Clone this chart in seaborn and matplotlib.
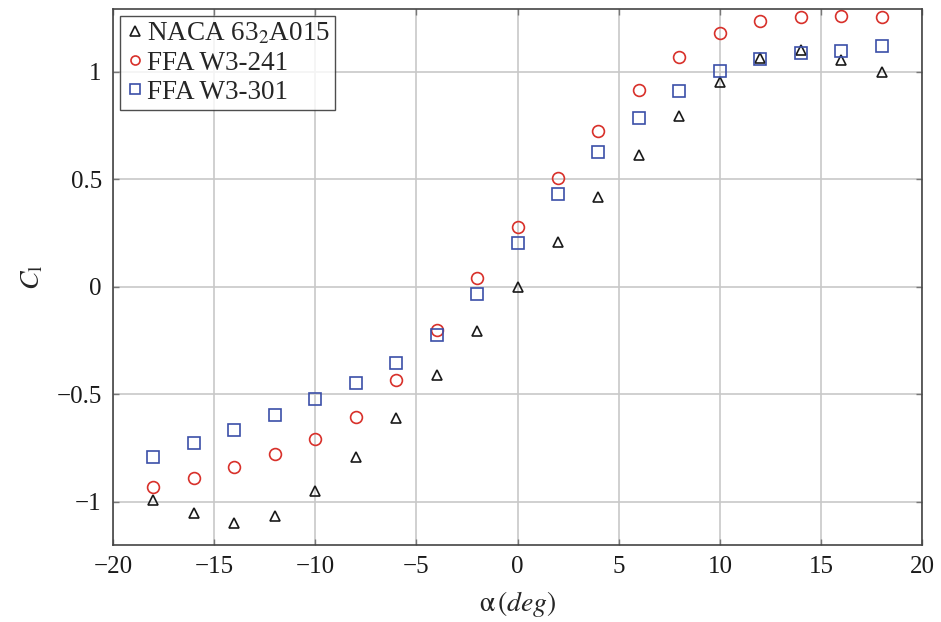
import matplotlib
matplotlib.use("Agg")
import matplotlib.pyplot as plt
import seaborn as sns
import pandas as pd

# Angle of attack (deg)
alpha = [-18, -16, -14, -12, -10, -8, -6, -4, -2, 0, 2, 4, 6, 8, 10, 12, 14, 16, 18]

# Lift coefficient per airfoil
cl_naca = [-0.99, -1.05, -1.10, -1.065, -0.95, -0.79, -0.608, -0.41, -0.206, 0.0,
           0.209, 0.419, 0.615, 0.795, 0.955, 1.066, 1.104, 1.054, 0.998]
cl_w3241 = [-0.93, -0.89, -0.839, -0.778, -0.707, -0.603, -0.433, -0.202, 0.042, 0.277,
            0.507, 0.726, 0.918, 1.071, 1.18, 1.237, 1.256, 1.259, 1.256]
cl_w3301 = [-0.789, -0.726, -0.664, -0.596, -0.523, -0.447, -0.352, -0.225, -0.034, 0.205,
            0.434, 0.628, 0.786, 0.91, 1.005, 1.06, 1.088, 1.10, 1.119]

labels = [r"NACA 63$_2$A015", "FFA W3-241", "FFA W3-301"]

df = pd.concat([
    pd.DataFrame({"alpha": alpha, "cl": cl_naca, "airfoil": labels[0]}),
    pd.DataFrame({"alpha": alpha, "cl": cl_w3241, "airfoil": labels[1]}),
    pd.DataFrame({"alpha": alpha, "cl": cl_w3301, "airfoil": labels[2]}),
])

sns.set_theme(style="whitegrid")
plt.rcParams["font.family"] = ["Liberation Serif", "DejaVu Serif"]
plt.rcParams["mathtext.fontset"] = "stix"

fig = plt.figure(figsize=(9.41, 6.22), dpi=100)
ax = fig.add_axes([0.120, 0.124, 0.860, 0.8615])

palette = {labels[0]: "#1a1a1a", labels[1]: "#d8302a", labels[2]: "#3b4fa8"}
markers = {labels[0]: "^", labels[1]: "o", labels[2]: "s"}
sizes = {labels[0]: 6.5, labels[1]: 8.5, labels[2]: 9}

for name in labels:
    sub = df[df["airfoil"] == name]
    sns.lineplot(data=sub, x="alpha", y="cl", ax=ax, linestyle="none",
                 marker=markers[name], markersize=sizes[name],
                 markerfacecolor="none", markeredgecolor=palette[name],
                 markeredgewidth=1.2, color=palette[name], label=name)

ax.set_xlim(-20, 20)
ax.set_ylim(-1.2, 1.293)
ax.set_xticks(range(-20, 21, 5))
ax.set_yticks([-1, -0.5, 0, 0.5, 1])
ax.set_yticklabels(["\u22121", "\u22120.5", "0", "0.5", "1"])
ax.set_xticklabels([("\u2212" + str(-v)) if v < 0 else str(v) for v in range(-20, 21, 5)])

ax.grid(True, color="#c8c8c8", linewidth=1.2)
for s in ax.spines.values():
    s.set_visible(True)
    s.set_color("#444444")
    s.set_linewidth(1.2)
ax.set_facecolor("white")
ax.tick_params(axis="both", direction="in", length=4, width=1, color="#777777",
               labelsize=18, labelcolor="#1a1a1a", pad=8, top=True, right=True,
               bottom=True, left=True)

ax.set_xlabel(r"$\mathrm{\alpha}\,(deg)$", fontsize=20, labelpad=8)
ax.set_ylabel(r"$C_\mathrm{l}$", fontsize=20, labelpad=8)

leg = ax.legend(loc="upper left", fontsize=19.5, frameon=True, fancybox=False,
                edgecolor="#222222", handletextpad=0.1, handlelength=0.7,
                borderpad=0.2, labelspacing=0.15, borderaxespad=0.25)
leg.get_frame().set_linewidth(1.0)
for h in leg.legend_handles:
    h.set_markersize(6.5)

fig.savefig("out.png", dpi=100, facecolor="white")
